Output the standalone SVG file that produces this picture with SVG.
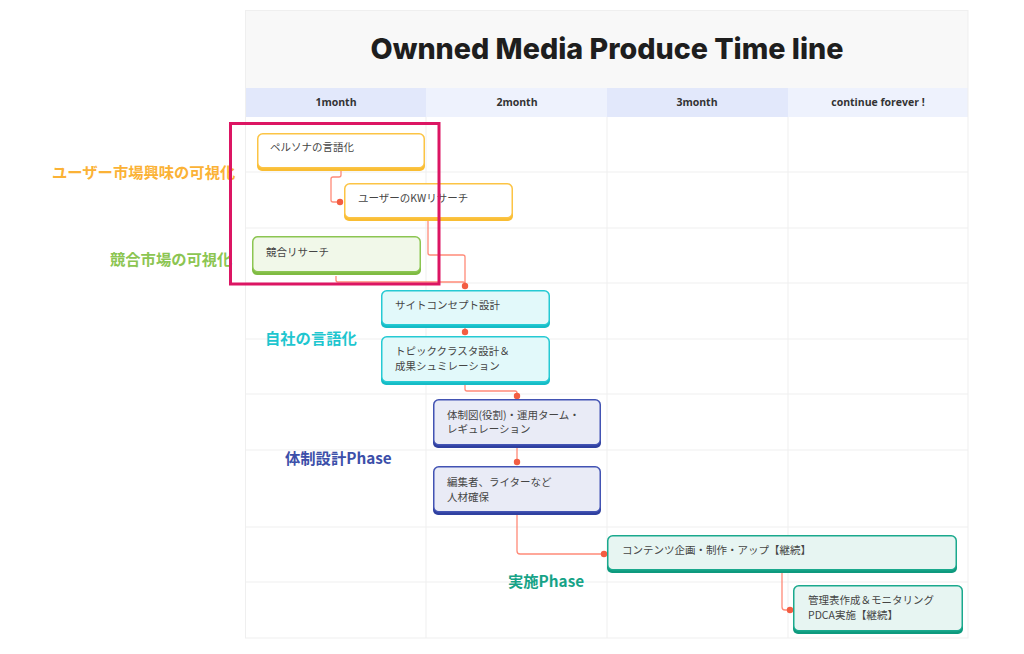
<svg xmlns="http://www.w3.org/2000/svg" width="1024" height="654" viewBox="0 0 1024 654">
<defs>
<style>
.grid{stroke:#efefef;stroke-width:1;fill:none}
.hd{font-family:"Open Sans","Noto Sans",sans-serif;font-weight:700;font-size:10.5px;fill:#333;text-anchor:middle}
.nt{font-family:"Noto Sans CJK JP","Noto Sans",sans-serif;font-size:10.5px;fill:#454545}
.lb{font-family:"Noto Sans CJK JP","Noto Sans",sans-serif;font-weight:700;font-size:15.3px}
.cn{fill:none;stroke:#ff8a78;stroke-width:1.3;stroke-linejoin:round}
.dot{fill:#f35d42}
.y .b{fill:#f9bd33}.y .f{fill:#ffffff;stroke:#fcc444}
.g .b{fill:#7fbb42}.g .f{fill:#f1f8e9;stroke:#8cc552}
.c .b{fill:#15bcc6}.c .f{fill:#e2f9fa;stroke:#26cad3}
.n .b{fill:#2f40a0}.n .f{fill:#e9ebf6;stroke:#4253b3}
.t .b{fill:#0e9a7e}.t .f{fill:#e7f5f2;stroke:#1aa98d}
.f{stroke-width:1.5}
</style>
<marker id="dotm" viewBox="0 0 8 8" refX="4" refY="4" markerWidth="6" markerHeight="6" markerUnits="userSpaceOnUse"><circle cx="4" cy="4" r="4" fill="#f35d42"/></marker>
</defs>
<rect width="1024" height="654" fill="#ffffff"/>
<g id="table">
<rect x="245" y="10" width="723" height="78" fill="#f8f8f8"/>
<rect x="245" y="88" width="181" height="29" fill="#e2e8fb"/>
<rect x="426" y="88" width="181" height="29" fill="#eef2fd"/>
<rect x="607" y="88" width="181" height="29" fill="#e2e8fb"/>
<rect x="788" y="88" width="180" height="29" fill="#eef2fd"/>
<path class="grid" d="M245,172H968M245,228H968M245,283H968M245,339H968M245,394H968M245,450H968M245,527H968M245,582H968M426,117V638M607,117V638M788,117V638"/>
<rect class="grid" x="245.5" y="10.5" width="722.5" height="627.5"/>
<text x="607" y="59" text-anchor="middle" font-family="Inter,'Noto Sans',sans-serif" font-weight="800" font-size="29" fill="#1e1e1e" textLength="473" lengthAdjust="spacingAndGlyphs">Ownned Media Produce Time line</text>
<text class="hd" x="336" y="106">1month</text>
<text class="hd" x="517" y="106">2month</text>
<text class="hd" x="697" y="106">3month</text>
<text class="hd" x="878" y="106">continue forever !</text>
</g>
<g id="labels">
<text class="lb" x="52" y="178" fill="#fbb236">ユーザー市場興味の可視化</text>
<text class="lb" x="110" y="265" fill="#8cc552">競合市場の可視化</text>
<text class="lb" x="265" y="344" fill="#1ec6cf">自社の言語化</text>
<text class="lb" x="285" y="464" fill="#3c4fa9">体制設計Phase</text>
<text class="lb" x="508" y="587" fill="#16a387">実施Phase</text>
</g>
<g id="connectors">
<path class="cn" d="M341,171V175Q341,177 339,177H333Q331,177 331,179V200Q331,202 333,202H340"/>
<path class="cn" d="M428,221V253Q428,255 430,255H463Q465,255 465,257V286"/>
<path class="cn" d="M336,276V280Q336,282 338,282H463Q465,282 465,284"/>
<path class="cn" d="M465,328V332"/>
<path class="cn" d="M465,385V389Q465,391 467,391H515Q517,391 517,393V396"/>
<path class="cn" d="M517,448V462"/>
<path class="cn" d="M517,515V551Q517,554 520,554H604"/>
<path class="cn" d="M782,573V607Q782,610 785,610H790"/>
<circle class="dot" cx="340" cy="202" r="3.2"/>
<circle class="dot" cx="465" cy="286" r="3.2"/>
<circle class="dot" cx="465" cy="332" r="3.2"/>
<circle class="dot" cx="517" cy="396" r="3.2"/>
<circle class="dot" cx="517" cy="462" r="3.2"/>
<circle class="dot" cx="604" cy="554" r="3.2"/>
<circle class="dot" cx="790" cy="610" r="3.2"/>
</g>
<g id="n1" class="y">
<rect class="b" x="257" y="136" width="168" height="35" rx="5"/>
<rect class="f" x="257.75" y="133.75" width="166.5" height="34" rx="5"/>
<text class="nt" x="270" y="151">ペルソナの言語化</text>
</g>
<g id="n2" class="y">
<rect class="b" x="344" y="186" width="169" height="35" rx="5"/>
<rect class="f" x="344.75" y="183.75" width="167.5" height="34" rx="5"/>
<text class="nt" x="358" y="202">ユーザーのKWリサーチ</text>
</g>
<g id="n3" class="g">
<rect class="b" x="252" y="240" width="169" height="35" rx="5"/>
<rect class="f" x="252.75" y="236.75" width="167.5" height="35" rx="5"/>
<text class="nt" x="266" y="256">競合リサーチ</text>
</g>
<g id="n4" class="c">
<rect class="b" x="381" y="293" width="169" height="35" rx="5"/>
<rect class="f" x="381.75" y="290.75" width="167.5" height="34" rx="5"/>
<text class="nt" x="395" y="309">サイトコンセプト設計</text>
</g>
<g id="n5" class="c">
<rect class="b" x="381" y="339" width="169" height="46" rx="5"/>
<rect class="f" x="381.75" y="336.75" width="167.5" height="45" rx="5"/>
<text class="nt" x="395" y="355">トピッククラスタ設計＆</text>
<text class="nt" x="395" y="370">成果シュミレーション</text>
</g>
<g id="n6" class="n">
<rect class="b" x="433" y="402" width="168" height="46" rx="5"/>
<rect class="f" x="433.75" y="399.75" width="166.5" height="45" rx="5"/>
<text class="nt" x="447" y="419">体制図(役割)・運用ターム・</text>
<text class="nt" x="447" y="433">レギュレーション</text>
</g>
<g id="n7" class="n">
<rect class="b" x="433" y="469" width="168" height="46" rx="5"/>
<rect class="f" x="433.75" y="466.75" width="166.5" height="45" rx="5"/>
<text class="nt" x="447" y="486">編集者、ライターなど</text>
<text class="nt" x="447" y="501">人材確保</text>
</g>
<g id="n8" class="t">
<rect class="b" x="607" y="538" width="350" height="35" rx="5"/>
<rect class="f" x="607.75" y="535.75" width="348.5" height="34" rx="5"/>
<text class="nt" x="622" y="554">コンテンツ企画・制作・アップ【継続】</text>
</g>
<g id="n9" class="t">
<rect class="b" x="793" y="588" width="170" height="46" rx="5"/>
<rect class="f" x="793.75" y="585.75" width="168.5" height="45" rx="5"/>
<text class="nt" x="808" y="604">管理表作成＆モニタリング</text>
<text class="nt" x="808" y="619">PDCA実施【継続】</text>
</g>
<g id="highlight">
<rect x="230.5" y="123.5" width="208.5" height="160.5" fill="none" stroke="#dc1563" stroke-width="3"/>
</g>
</svg>
